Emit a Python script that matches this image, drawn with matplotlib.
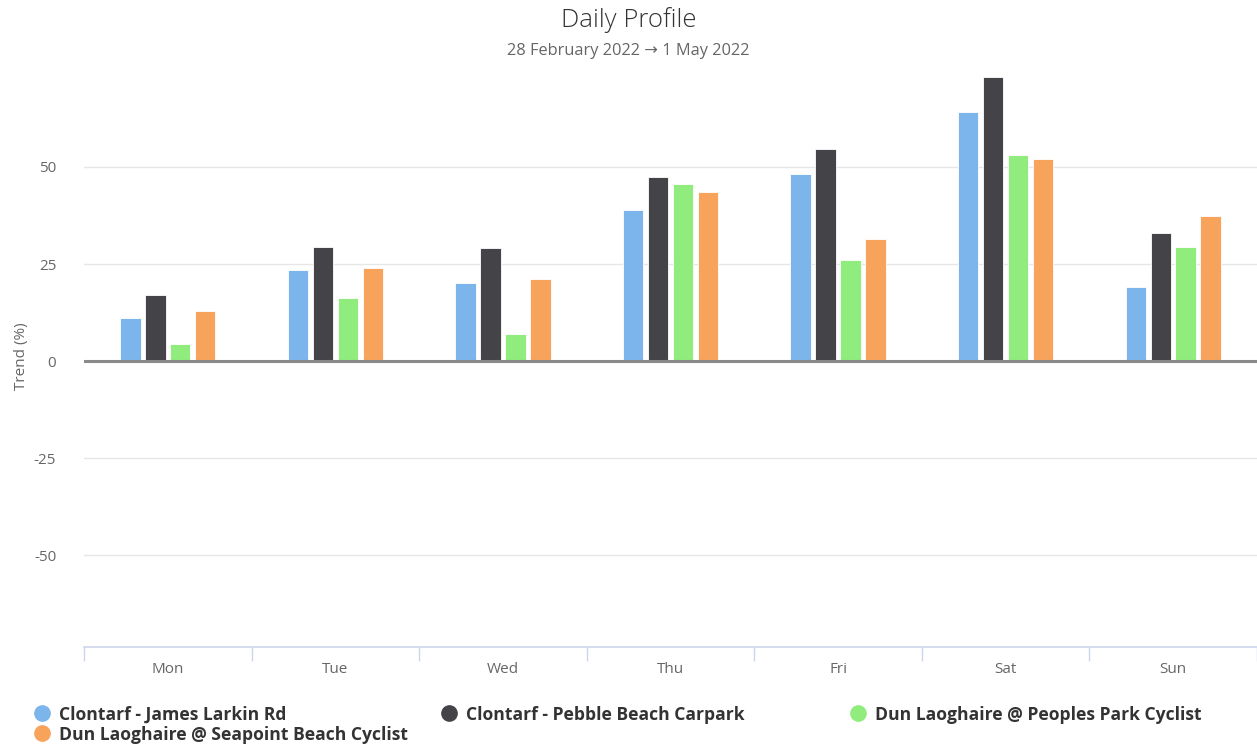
import numpy as np
import matplotlib.pyplot as plt
from matplotlib.lines import Line2D

plt.rcParams['font.family'] = ['Open Sans', 'DejaVu Sans']

days = ['Mon', 'Tue', 'Wed', 'Thu', 'Fri', 'Sat', 'Sun']
series_names = ['Clontarf - James Larkin Rd',
                'Clontarf - Pebble Beach Carpark',
                'Dun Laoghaire @ Peoples Park Cyclist',
                'Dun Laoghaire @ Seapoint Beach Cyclist']
larkin = [11.2, 23.5, 20.2, 39.0, 48.3, 64.1, 19.1]
pebble = [17.1, 29.4, 29.2, 47.3, 54.6, 73.1, 32.9]
peoples = [4.3, 16.3, 7.1, 45.5, 26.0, 53.1, 29.4]
seapoint = [13.0, 24.0, 21.2, 43.5, 31.5, 52.1, 37.3]
colors = ['#7cb5ec', '#434348', '#90ed7d', '#f7a35c']

fig = plt.figure(figsize=(12.57, 7.44), dpi=100)
ax = fig.add_axes([84/1257, 1 - 647/744, 1 - 84/1257, (647 - 66)/744])

x = np.arange(len(days))
pitch = 0.149
width = 0.122
for i, (vals, c) in enumerate(zip([larkin, pebble, peoples, seapoint], colors)):
    ax.bar(x + (i - 1.5)*pitch, vals, width, color=c, edgecolor='white',
           linewidth=0.6, zorder=3)

ax.set_xlim(-0.5, len(days) - 0.5)
ax.set_ylim(-73.6, 76)
ax.set_yticks([-50, -25, 0, 25, 50])
ax.set_yticklabels(['-50', '-25', '0', '25', '50'])
ax.grid(axis='y', color='#e6e6e6', linewidth=1, zorder=0)
ax.axhline(0, color='#8a8a8a', linewidth=2.2, zorder=4)

ax.set_xticks(x)
ax.set_xticklabels(days)
ax.set_xticks(np.arange(len(days) + 1) - 0.5, minor=True)
ax.tick_params(axis='x', which='major', length=0, pad=11, labelsize=11, labelcolor='#666666')
ax.tick_params(axis='x', which='minor', length=10, color='#ccd6eb', width=1)
ax.tick_params(axis='y', length=0, pad=20, labelsize=11, labelcolor='#666666')

for s in ['top', 'right', 'left']:
    ax.spines[s].set_visible(False)
ax.spines['bottom'].set_color('#ccd6eb')
ax.spines['bottom'].set_linewidth(1.2)

ax.set_ylabel('Trend (%)', color='#666666', fontsize=11)
ax.yaxis.set_label_coords(-0.047, 0.5)

fig.text(0.5, 1 - 20/744, 'Daily Profile', ha='center', va='center',
         fontsize=18.5, fontweight='light', color='#333333')
fig.text(0.5, 1 - 51/744, '28 February 2022 \u2192 1 May 2022', ha='center',
         va='center', fontsize=11.8, color='#666666')

# legend laid out row by row, three per row
legend_pos = [(42, 713), (449, 713), (858, 713), (42, 733)]
for (px, py), name, c in zip(legend_pos, series_names, colors):
    fig.add_artist(Line2D([px/1257], [1 - py/744], marker='o', markersize=11,
                          color=c, linestyle='none', transform=fig.transFigure))
    fig.text((px + 17)/1257, 1 - (py + 2)/744, name, ha='left', va='center',
             fontsize=12.6, fontweight='bold', color='#333333')

fig.savefig('out.png', dpi=100, facecolor='white')
